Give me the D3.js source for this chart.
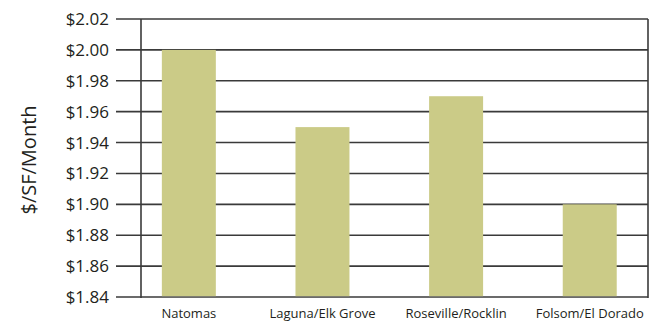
<!DOCTYPE html>
<html>
<head>
<meta charset="utf-8">
<script src="https://cdn.jsdelivr.net/npm/d3@7"></script>
<style>
  body { margin: 0; background: #fff; }
  text { font-family: "Open Sans", "Noto Sans", sans-serif; fill: #231f20; }
</style>
</head>
<body>
<div class="chart"></div>
<script>
var width = 653
var height = 325

const categories = ["Natomas", "Laguna/Elk Grove", "Roseville/Rocklin", "Folsom/El Dorado"]
const rents = [2.00, 1.95, 1.97, 1.90]
const yTicks = [1.84, 1.86, 1.88, 1.90, 1.92, 1.94, 1.96, 1.98, 2.00, 2.02]

var plotLeft = 141, plotRight = 648, plotTop = 19, plotBottom = 297

var svg = d3.select(".chart")
  .append("svg")
  .attr("width", width)
  .attr("height", height)

var x = d3.scaleBand()
  .domain(categories)
  .range([plotLeft, plotRight])
  .paddingInner(0.596)
  .paddingOuter(0.195)
  .align(0.4)

var y = d3.scaleLinear()
  .domain([1.84, 2.02])
  .range([plotBottom, plotTop])

// grid lines with the tick stubs to the left of the axis
svg.append("g")
  .selectAll("line")
  .data(yTicks)
  .enter()
  .append("line")
  .attr("x1", 116)
  .attr("x2", plotRight)
  .attr("y1", d => y(d))
  .attr("y2", d => y(d))
  .attr("stroke", "#3a3a3a")
  .attr("stroke-width", 1.6)

svg.append("g")
  .selectAll("text")
  .data(yTicks)
  .enter()
  .append("text")
  .attr("x", 109)
  .attr("y", d => y(d))
  .attr("dy", "0.35em")
  .attr("text-anchor", "end")
  .attr("font-size", 17)
  .text(d => "$" + d.toFixed(2))

// bars
svg.append("g")
  .selectAll("rect")
  .data(rents)
  .enter()
  .append("rect")
  .attr("x", (d, i) => x(categories[i]))
  .attr("width", x.bandwidth())
  .attr("y", d => y(d))
  .attr("height", d => y(1.84) - y(d) - 0.8)
  .attr("fill", "#cbcb87")

// frame: left axis and right edge
svg.append("line")
  .attr("x1", plotLeft).attr("x2", plotLeft)
  .attr("y1", plotTop).attr("y2", plotBottom + 1)
  .attr("stroke", "#3a3a3a").attr("stroke-width", 1.6)
svg.append("line")
  .attr("x1", plotRight).attr("x2", plotRight)
  .attr("y1", plotTop).attr("y2", plotBottom + 1)
  .attr("stroke", "#3a3a3a").attr("stroke-width", 1.6)

svg.append("g")
  .selectAll("text")
  .data(categories)
  .enter()
  .append("text")
  .attr("x", d => x(d) + x.bandwidth() / 2)
  .attr("y", 318)
  .attr("text-anchor", "middle")
  .attr("font-size", 13)
  .text(d => d)

svg.append("text")
  .attr("transform", "translate(36,160) rotate(-90)")
  .attr("text-anchor", "middle")
  .attr("font-size", 20)
  .text("$/SF/Month")
</script>
</body>
</html>
